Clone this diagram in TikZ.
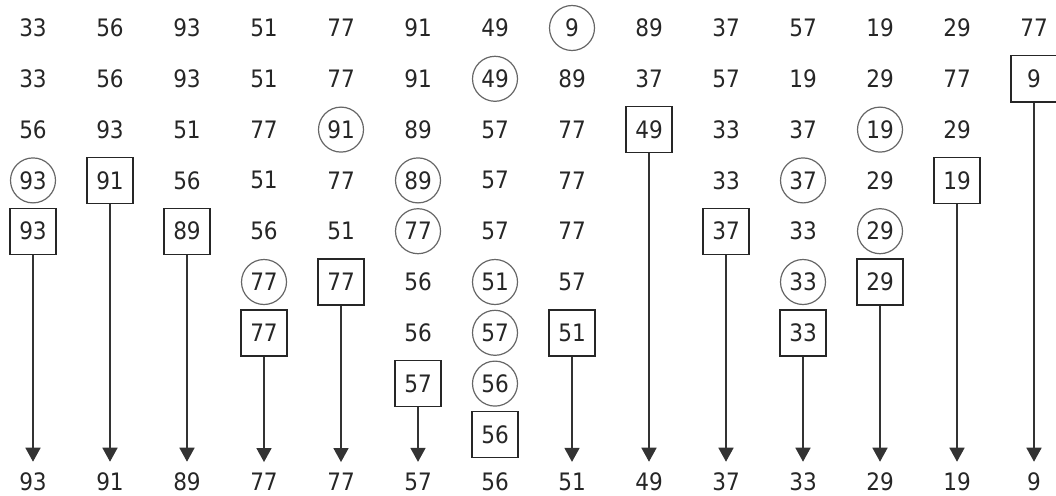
\documentclass[tikz,border=0pt]{standalone}
\usepackage{fontspec}
\setmainfont{DejaVu Sans}[FakeStretch=0.9]
\usetikzlibrary{arrows.meta}

\begin{document}
\begin{tikzpicture}[
        x=1pt, y=-1pt,
        num/.style={font=\fontsize{24}{24}\selectfont, text=black!85, inner sep=0pt},
        pick/.style={num, rectangle, draw=black!85, line width=1.4pt, minimum width=46pt, minimum height=46pt},
        hilite/.style={num, circle, draw=black!60, line width=1.2pt, minimum size=45pt},
        arrow/.style={-{Triangle[width=15pt,length=14pt]}, line width=1.6pt, draw=black!80, shorten >=11pt}
    ]
    \useasboundingbox (0,0) rectangle (1056,495);

    % the passes, row by row: column/value/style
    \foreach \r/\cells in {
        0/{0/33/num,1/56/num,2/93/num,3/51/num,4/77/num,5/91/num,6/49/num,7/9/hilite,8/89/num,9/37/num,10/57/num,11/19/num,12/29/num,13/77/num},
        1/{0/33/num,1/56/num,2/93/num,3/51/num,4/77/num,5/91/num,6/49/hilite,7/89/num,8/37/num,9/57/num,10/19/num,11/29/num,12/77/num,13/9/pick},
        2/{0/56/num,1/93/num,2/51/num,3/77/num,4/91/hilite,5/89/num,6/57/num,7/77/num,8/49/pick,9/33/num,10/37/num,11/19/hilite,12/29/num},
        3/{0/93/hilite,1/91/pick,2/56/num,3/51/num,4/77/num,5/89/hilite,6/57/num,7/77/num,9/33/num,10/37/hilite,11/29/num,12/19/pick},
        4/{0/93/pick,2/89/pick,3/56/num,4/51/num,5/77/hilite,6/57/num,7/77/num,9/37/pick,10/33/num,11/29/hilite},
        5/{3/77/hilite,4/77/pick,5/56/num,6/51/hilite,7/57/num,10/33/hilite,11/29/pick},
        6/{3/77/pick,5/56/num,6/57/hilite,7/51/pick,10/33/pick},
        7/{5/57/pick,6/56/hilite},
        8/{6/56/pick}}
        \foreach \c/\v/\s in \cells
            \node[\s] (n\r-\c) at ({33+77*\c},{28+50.8*\r}) {\v};

    % sorted output
    \foreach \c/\v in {0/93,1/91,2/89,3/77,4/77,5/57,6/56,7/51,8/49,9/37,10/33,11/29,12/19,13/9}
        \node[num] (out\c) at ({33+77*\c},482) {\v};

    \foreach \r/\c in {4/0,3/1,4/2,6/3,5/4,7/5,6/7,2/8,4/9,6/10,5/11,3/12,1/13}
        \draw[arrow] (n\r-\c.south) -- (out\c.north);
\end{tikzpicture}
\end{document}
